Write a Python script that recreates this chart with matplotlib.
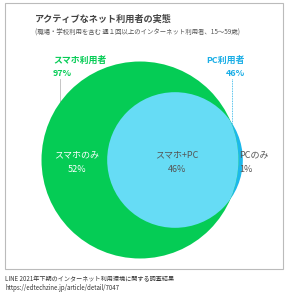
import matplotlib
matplotlib.use("Agg")
import matplotlib.pyplot as plt
from matplotlib.patches import Circle, Rectangle

plt.rcParams["font.family"] = ["Noto Sans CJK JP", "DejaVu Sans"]

# data
title = "アクティブなネット利用者の実態"
subtitle = "(職場・学校利用を含む 週１回以上のインターネット利用者、15～59歳)"
set_names = ["スマホ利用者", "PC利用者"]
set_pct = [97, 46]
region_names = ["スマホのみ", "スマホ+PC", "PCのみ"]
region_pct = [52, 46, 1]
source_lines = [
    "LINE 2021年下期のインターネット利用環境に関する調査結果",
    "https://edtechzine.jp/article/detail/7047",
]

GREEN = "#05CC55"
LIGHT_BLUE = "#66DCF5"
DARK_BLUE = "#1CB8EA"
PC_TEXT = "#1AAEE6"
GRAY_TEXT = "#555555"

fig = plt.figure(figsize=(2.88, 2.96), dpi=100)
ax = fig.add_axes([0, 0, 1, 1])
ax.set_xlim(0, 288)
ax.set_ylim(296, 0)
ax.axis("off")

# frame
ax.add_patch(Rectangle((5, 3), 278, 266, fill=False, edgecolor="#BBBBBB", linewidth=0.8))

# circles: area proportional to share
scale = 10.0
r_sp = scale * set_pct[0] ** 0.5
r_pc = scale * set_pct[1] ** 0.5
c_sp = (140, 160)
c_pc = (175, 160)

pc_outer = Circle(c_pc, r_pc, facecolor=DARK_BLUE, edgecolor="none", zorder=1)
sp = Circle(c_sp, r_sp, facecolor=GREEN, edgecolor="none", zorder=2)
pc_inner = Circle(c_pc, r_pc, facecolor=LIGHT_BLUE, edgecolor="none", zorder=3)
ax.add_patch(pc_outer)
ax.add_patch(sp)
ax.add_patch(pc_inner)
pc_inner.set_clip_path(sp)

# titles
ax.text(35, 19, title, fontsize=6.6, color="#444444", fontweight="bold", va="center", ha="left")
ax.text(35, 33, subtitle, fontsize=4.6, color="#555555", va="center", ha="left")

# set labels + leaders
ax.text(53, 60, set_names[0], fontsize=6.4, color=GREEN, fontweight="bold", va="center", ha="left")
ax.text(53, 73, f"{set_pct[0]}%", fontsize=6.4, color=GREEN, fontweight="bold", va="center", ha="left")
ax.plot([60, 60], [79, 101], color="#BBBBBB", linewidth=0.6, zorder=0)

ax.text(245, 60, set_names[1], fontsize=6.4, color=PC_TEXT, fontweight="bold", va="center", ha="right")
ax.text(245, 73, f"{set_pct[1]}%", fontsize=6.4, color=PC_TEXT, fontweight="bold", va="center", ha="right")
ax.plot([232, 232], [79, 124], color=PC_TEXT, linewidth=0.6, linestyle=(0, (1, 1)), zorder=0)

# region labels
region_x = [77, 177, 239]
region_ha = ["center", "center", "left"]
region_color = ["white", GRAY_TEXT, GRAY_TEXT]
for name, pct, x, ha, col in zip(region_names, region_pct, region_x, region_ha, region_color):
    ax.text(x, 155, name, fontsize=6.5, color=col, ha=ha, va="center", zorder=5)
    ax.text(x, 170, f"{pct}%", fontsize=6.5, color=col, ha=ha, va="center", zorder=5)

# source
ax.text(5, 279, source_lines[0], fontsize=4.4, color="#333333", va="center", ha="left")
ax.text(5, 288, source_lines[1], fontsize=4.4, color="#333333", va="center", ha="left")

fig.savefig("out.png", dpi=100)
